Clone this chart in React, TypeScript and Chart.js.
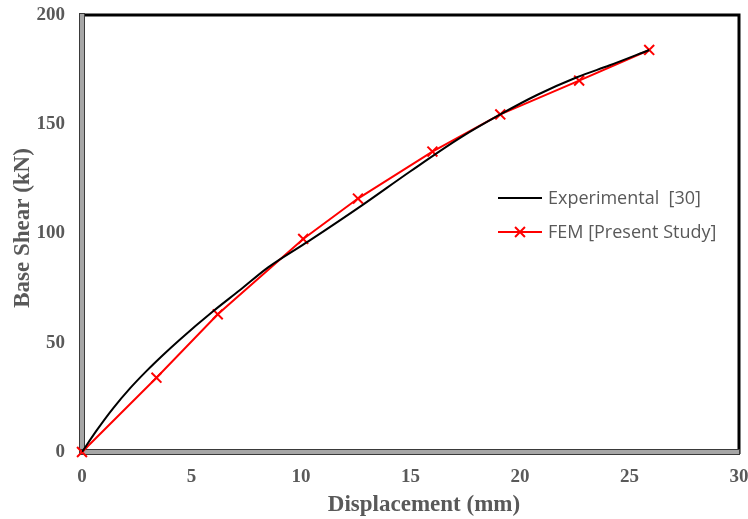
import React, { useEffect, useRef } from "react";
import { Chart, registerables } from "chart.js";

Chart.register(...registerables);

// Experimental load–displacement curve [30]
const expDisp = [0, 0.67, 1.42, 2.18, 2.94, 3.7, 4.45, 6.0, 7.2, 8.5, 10.35, 12.8, 15.0, 17.3, 19.1, 20.8, 22.6, 24.1, 25.9];
const expShear = [0, 9.9, 20, 29, 37, 44.4, 51.3, 64.5, 74, 84.5, 96.5, 113, 128.5, 144, 154.5, 163.5, 171.5, 177, 184];

// FEM results (present study)
const femDisp = [0, 3.4, 6.2, 10.1, 12.6, 16.0, 19.1, 22.7, 25.9];
const femShear = [0, 34, 63, 97.5, 116, 137.5, 154.5, 170, 184];

const xTicks = [0, 5, 10, 15, 20, 25, 30];
const yTicks = [0, 50, 100, 150, 200];

const seriesNames = ["Experimental  [30]", "FEM [Present Study]"];
const xTitle = "Displacement (mm)";
const yTitle = "Base Shear (kN)";

const SERIF = "'Liberation Serif', 'Times New Roman', serif";
const TICK_FONT = { family: SERIF, size: 19, weight: "bold" as const };
const GREY = "#595959";

// Excel-like frame: bevelled grey left/bottom axes, heavy black top/right edges
const framePlugin = {
  id: "frame",
  beforeDatasetsDraw(chart: any) {
    const { ctx, chartArea: a } = chart;
    ctx.save();
    ctx.strokeStyle = "#000";
    ctx.lineWidth = 3;
    ctx.beginPath();
    ctx.moveTo(a.left, a.top);
    ctx.lineTo(a.right, a.top);
    ctx.lineTo(a.right, a.bottom + 2);
    ctx.stroke();

    ctx.fillStyle = "#a6a6a6";
    ctx.strokeStyle = "#3a3a3a";
    ctx.lineWidth = 1;
    ctx.fillRect(a.left - 2, a.top - 1, 4, a.bottom - a.top + 3);
    ctx.strokeRect(a.left - 2.5, a.top - 1.5, 5, a.bottom - a.top + 4);
    ctx.fillRect(a.left - 2, a.bottom - 2, a.right - a.left + 3, 4);
    ctx.strokeRect(a.left - 2.5, a.bottom - 2.5, a.right - a.left + 3, 5);
    ctx.fillStyle = "#a6a6a6";
    ctx.fillRect(a.left - 2, a.bottom - 2, 4, 4);
    ctx.restore();
  },
};

// Axis titles placed like the spreadsheet original
const axisTitles = {
  id: "axisTitles",
  afterDraw(chart: any) {
    const { ctx } = chart;
    ctx.save();
    ctx.fillStyle = GREY;
    ctx.textAlign = "center";
    ctx.textBaseline = "middle";
    ctx.font = `bold 23px ${SERIF}`;
    ctx.fillText(xTitle, 424, 505);
    ctx.translate(23, 228);
    ctx.rotate(-Math.PI / 2);
    ctx.fillText(yTitle, 0, 0);
    ctx.restore();
  },
};

// Legend drawn inside the plot area
const insetLegend = {
  id: "insetLegend",
  afterDatasetsDraw(chart: any) {
    const { ctx } = chart;
    const x0 = 498;
    const x1 = 542;
    const rows = [198, 232];
    ctx.save();
    ctx.font = "18px 'Open Sans', 'Noto Sans', sans-serif";
    ctx.textBaseline = "middle";
    ctx.textAlign = "left";
    chart.data.datasets.forEach((ds: any, i: number) => {
      const y = rows[i];
      ctx.strokeStyle = ds.borderColor;
      ctx.lineWidth = ds.borderWidth;
      ctx.beginPath();
      ctx.moveTo(x0, y);
      ctx.lineTo(x1, y);
      ctx.stroke();
      if (ds.pointRadius > 0) {
        const r = ds.pointRadius;
        const cx = (x0 + x1) / 2;
        const d = r * Math.SQRT1_2;
        ctx.strokeStyle = ds.pointBorderColor;
        ctx.lineWidth = ds.pointBorderWidth;
        ctx.beginPath();
        ctx.moveTo(cx - d, y - d);
        ctx.lineTo(cx + d, y + d);
        ctx.moveTo(cx + d, y - d);
        ctx.lineTo(cx - d, y + d);
        ctx.stroke();
      }
      ctx.fillStyle = GREY;
      ctx.fillText(ds.label, 548, y + 1);
    });
    ctx.restore();
  },
};

export default function App() {
  const ref = useRef<HTMLCanvasElement | null>(null);

  useEffect(() => {
    document.body.style.margin = "0";
    if (!ref.current) return;
    const chart = new Chart(ref.current, {
      type: "line",
      data: {
        datasets: [
          {
            label: seriesNames[0],
            data: expDisp.map((x, i) => ({ x, y: expShear[i] })),
            borderColor: "#000000",
            borderWidth: 2,
            pointRadius: 0,
            cubicInterpolationMode: "monotone",
            fill: false,
          },
          {
            label: seriesNames[1],
            data: femDisp.map((x, i) => ({ x, y: femShear[i] })),
            borderColor: "#ff0000",
            borderWidth: 2,
            pointStyle: "crossRot",
            pointRadius: 7,
            pointBorderColor: "#ff0000",
            pointBorderWidth: 2,
            tension: 0,
            fill: false,
            clip: false as any,
          },
        ],
      },
      options: {
        animation: false,
        responsive: false,
        maintainAspectRatio: false,
        layout: { padding: { top: 15, right: 5, left: 0, bottom: 0 } },
        plugins: { legend: { display: false }, tooltip: { enabled: false } },
        scales: {
          x: {
            type: "linear",
            min: 0,
            max: 30,
            afterBuildTicks: (s: any) => {
              s.ticks = xTicks.map((v) => ({ value: v }));
            },
            afterFit: (s: any) => {
              s.height = 67;
              s.paddingLeft = 0;
              s.paddingRight = 0;
            },
            grid: { display: false, drawTicks: false },
            border: { display: false },
            ticks: { color: GREY, font: TICK_FONT, padding: 14, maxRotation: 0 },
          },
          y: {
            type: "linear",
            min: 0,
            max: 200,
            afterBuildTicks: (s: any) => {
              s.ticks = yTicks.map((v) => ({ value: v }));
            },
            afterFit: (s: any) => {
              s.width = 82;
              s.paddingTop = 0;
              s.paddingBottom = 0;
            },
            grid: { display: false, drawTicks: false },
            border: { display: false },
            ticks: { color: GREY, font: TICK_FONT, padding: 17 },
          },
        },
      },
      plugins: [framePlugin, insetLegend, axisTitles],
    });
    return () => chart.destroy();
  }, []);

  return (
    <div style={{ position: "relative", width: 748, height: 519, background: "#fff" }}>
      <canvas ref={ref} width={748} height={519} style={{ display: "block", width: 748, height: 519 }} />
    </div>
  );
}
